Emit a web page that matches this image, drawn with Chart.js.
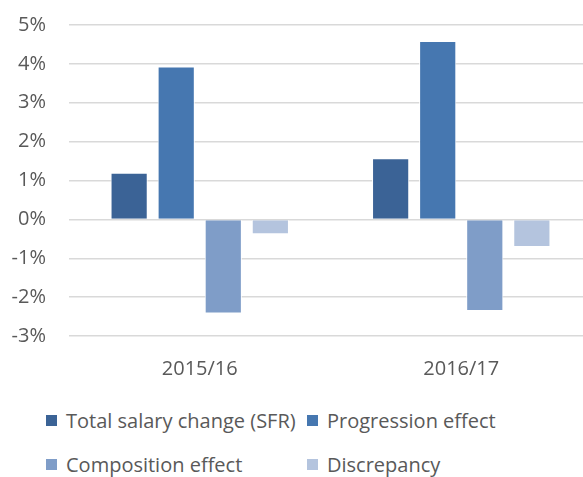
<!DOCTYPE html>
<html>
<head>
<meta charset="utf-8">
<script src="https://cdn.jsdelivr.net/npm/chart.js@4.4.0/dist/chart.umd.min.js"></script>
<style>
  body { margin: 0; background: #fff; }
  #wrap { position: relative; width: 583px; height: 477px; overflow: hidden; }
  #chart { position: absolute; left: 0; top: 0; }
  #legend {
    position: absolute; left: 46px; top: 406px;
    display: grid; grid-template-columns: 261px 250px; row-gap: 16px;
    font-family: "Open Sans", sans-serif; font-size: 20px; color: #595959;
  }
  .item { display: flex; align-items: center; height: 28px; white-space: nowrap; }
  .box { width: 11px; height: 11px; margin-right: 9px; }
</style>
</head>
<body>
<div id="wrap">
  <canvas id="chart" width="592" height="390"></canvas>
  <div id="legend"></div>
</div>
<script>
// categories and series (percent)
const categories = ['2015/16', '2016/17'];
const seriesNames = ['Total salary change (SFR)', 'Progression effect', 'Composition effect', 'Discrepancy'];
const totalSalary = [1.20, 1.57];
const progression = [3.93, 4.59];
const composition = [-2.42, -2.36];
const discrepancy = [-0.38, -0.71];
const colors = ['#3b6396', '#4677b0', '#7f9dc8', '#b4c4de'];
const yTicks = [-3, -2, -1, 0, 1, 2, 3, 4, 5];

const values = [totalSalary, progression, composition, discrepancy];

const ctx = document.getElementById('chart').getContext('2d');
const chart = new Chart(ctx, {
  type: 'bar',
  data: {
    labels: categories,
    datasets: seriesNames.map((name, i) => ({
      label: name,
      data: values[i],
      backgroundColor: colors[i],
      borderColor: '#ffffff',
      borderWidth: 1,
      categoryPercentage: 0.72,
      barPercentage: 0.79
    }))
  },
  options: {
    responsive: false,
    animation: false,
    layout: { padding: { top: 25, right: 0, left: 0, bottom: 0 } },
    plugins: {
      legend: { display: false },
      tooltip: { enabled: false }
    },
    scales: {
      x: {
        grid: { display: false },
        border: { display: false },
        afterFit: axis => { axis.height = 54; axis.paddingLeft = 0; axis.paddingRight = 0; },
        ticks: {
          color: '#595959',
          padding: 13,
          font: { family: 'Open Sans', size: 20 }
        }
      },
      y: {
        min: -3,
        max: 5,
        afterBuildTicks: axis => { axis.ticks = yTicks.map(v => ({ value: v })); },
        afterFit: axis => { axis.width = 69; axis.paddingTop = 0; axis.paddingBottom = 0; },
        grid: { color: '#d9d9d9', lineWidth: 1.5, drawTicks: false },
        border: { display: false },
        ticks: {
          color: '#595959',
          padding: 23,
          font: { family: 'Open Sans', size: 20 },
          callback: v => `${v}%`
        }
      }
    }
  }
});

// HTML legend built from the series arrays
const legendEl = document.getElementById('legend');
legendEl.innerHTML = seriesNames.map((name, i) =>
  `<div class="item"><span class="box" style="background:${colors[i]}"></span>${name}</div>`
).join('');
</script>
</body>
</html>
